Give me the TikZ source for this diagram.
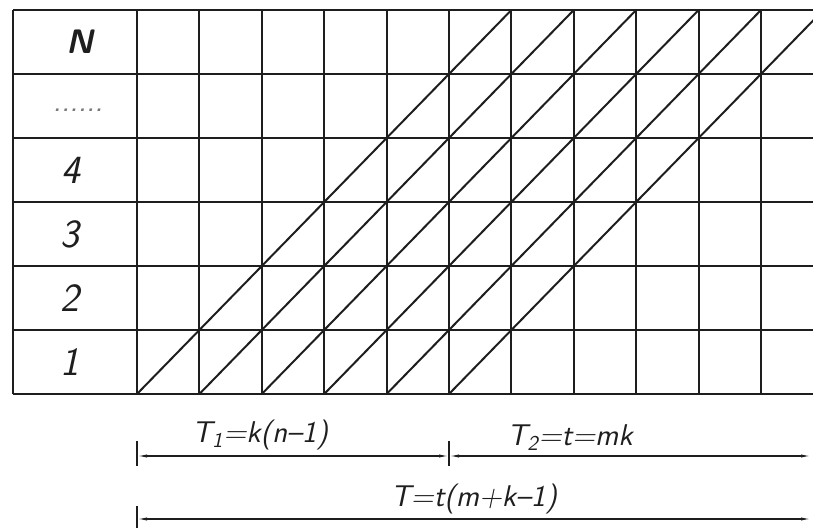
\documentclass[tikz,border=0pt]{standalone}
\usepackage{fontspec}
\usetikzlibrary{arrows.meta, calc}
\definecolor{inkdark}{RGB}{30,30,30}
\definecolor{inkfaint}{RGB}{120,120,120}
\tikzset{
  gridline/.style={line width=1pt, color=inkdark},
  diagline/.style={line width=1pt, color=inkdark},
  dimline/.style={line width=0.6pt, color=inkdark,
    {Latex[length=5pt,width=1.6pt]}-{Latex[length=5pt,width=1.6pt]}},
  dimtick/.style={line width=0.6pt, color=inkdark},
  rowlabel/.style={font=\fontsize{20}{20}\selectfont\sffamily\itshape, color=inkdark},
  dimlabel/.style={font=\fontsize{15}{15}\selectfont\sffamily\itshape\addfontfeature{LetterSpace=8},
    anchor=base, color=inkdark}
}
\newcommand{\colw}{62.4}

\begin{document}
\begin{tikzpicture}[x=0.5pt, y=-0.5pt]
  \useasboundingbox (0,0) rectangle (813,528);
  \clip (0,0) rectangle (813,528);

  % Grid
  \foreach \j in {0,...,6}
    \draw[gridline] (13,10+64*\j) -- (813,10+64*\j);
  \draw[gridline] (13,10) -- (13,394);
  \foreach \i in {0,...,10}
    \draw[gridline] (137+\colw*\i,10) -- (137+\colw*\i,394);

  % Diagonals
  \foreach \i in {0,...,5}
    \draw[diagline] (137+\colw*\i,394) -- (137+\colw*\i+\colw*6,10);

  % Row labels
  \node[rowlabel, font=\fontsize{17}{17}\selectfont\sffamily\bfseries\itshape] (lblN) at (80,42) {N};
  \node[rowlabel, font=\fontsize{16}{16}\selectfont\sffamily\itshape, color=inkfaint] (lbldots) at (78,110) {......};
  \node[rowlabel] (lblfour) at (71,170) {4};
  \node[rowlabel] (lblthree) at (70,234) {3};
  \node[rowlabel] (lbltwo) at (70,298) {2};
  \node[rowlabel] (lblone) at (70,362) {1};

  % Dimension lines
  \coordinate (startA) at (137,456);
  \coordinate (midA) at (449,456);
  \coordinate (endA) at (811,456);
  \coordinate (startB) at (137,519);
  \coordinate (endB) at (811,519);
  \draw[dimtick] ($(startA)+(0,-15)$) -- ($(startA)+(0,10)$);
  \draw[dimtick] ($(midA)+(0,-15)$) -- ($(midA)+(0,10)$);
  \draw[dimtick] ($(startB)+(0,-13)$) -- ($(startB)+(0,9)$);
  \draw[dimline] (startA) -- (midA);
  \draw[dimline] (midA) -- (endA);
  \draw[dimline] (startB) -- (endB);

  % Dimension texts
  \node[dimlabel] (lblTone) at (260,443) {T\textsubscript{1}=k(n\textendash 1)};
  \node[dimlabel] (lblTtwo) at (570,446) {T\textsubscript{2}=t=mk};
  \node[dimlabel] (lblT) at (474,507) {T=t(m+k\textendash 1)};

\end{tikzpicture}
\end{document}
